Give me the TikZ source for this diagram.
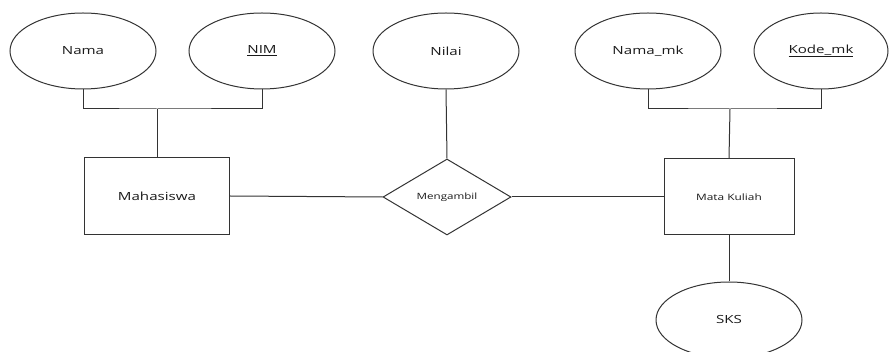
\documentclass[tikz,border=0pt]{standalone}
\usepackage{graphicx}
\usepackage{fontspec}
\setmainfont{Open Sans}
\usetikzlibrary{shapes.geometric}
\definecolor{ink}{HTML}{333333}
\definecolor{txt}{HTML}{1A1A1A}
% text in this ER diagram is set slightly wide
\newcommand{\widetxt}[1]{\scalebox{1.35}[1]{#1}}
\tikzset{
  attr/.style={ellipse, draw=ink, line width=1pt, inner sep=0pt,
    minimum width=146pt, minimum height=76pt, text=txt,
    font=\fontsize{11.2pt}{13pt}\selectfont},
  entity/.style={rectangle, draw=ink, line width=1pt, inner sep=0pt,
    minimum width=145pt, minimum height=77pt, text=txt},
  rel/.style={diamond, draw=ink, line width=1pt, inner sep=0pt,
    minimum width=128pt, minimum height=76pt, text=txt,
    font=\fontsize{8.6pt}{10pt}\selectfont},
  link/.style={draw=ink, line width=1pt}
}
\begin{document}
\begin{tikzpicture}[x=1pt, y=-1pt]
  \useasboundingbox (0,0) rectangle (889,352);
  \clip (0,0) rectangle (889,352);

  % attributes
  \node[attr] (nama)   at (83,51)  {\widetxt{Nama}};
  \node[attr] (nim)    at (262,51) {\widetxt{\underline{NIM}}};
  \node[attr] (nilai)  at (446,51) {\widetxt{Nilai}};
  \node[attr] (namamk) at (648,51) {\widetxt{Nama\_mk}};
  \node[attr, minimum width=134pt] (kodemk) at (821,51) {\widetxt{\underline{Kode\_mk}}};
  \node[attr] (sks)    at (729,320) {\widetxt{SKS}};

  % entities and relationship
  \node[entity, font=\fontsize{11.2pt}{13pt}\selectfont] (mhs) at (157,196) {\widetxt{Mahasiswa}};
  \node[rel] (ambil) at (447,197) {\widetxt{Mengambil}};
  \node[entity, minimum width=130pt, minimum height=76pt,
        font=\fontsize{8.8pt}{10pt}\selectfont] (mk) at (729,197) {\widetxt{Mata Kuliah}};

  % junctions of the attribute brackets
  \coordinate (j1) at (157,109);
  \coordinate (j2) at (730,109);

  % connectors
  \draw[link] (nama.south) |- (j1) -| (nim.south);
  \draw[link] (j1) -- (mhs.north);
  \draw[link] (namamk.south) |- (j2) -| (kodemk.south);
  \draw[link] (j2) -- (mk.north);
  \draw[link] (nilai.south) -- (ambil.north);
  \draw[link] (mhs.east) -- (ambil.west);
  \draw[link] (ambil.east) -- (mk.west);
  \draw[link] (mk.south) -- (sks.north);
\end{tikzpicture}
\end{document}
